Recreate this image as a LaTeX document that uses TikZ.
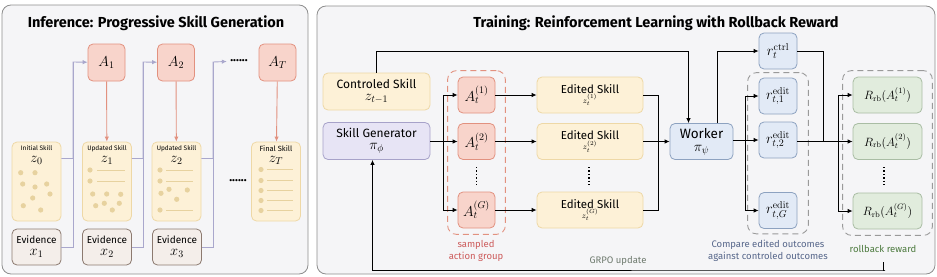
\documentclass[tikz,border=0pt]{standalone}
\usepackage[no-math]{fontspec}
\setmainfont{Fira Sans}
\usetikzlibrary{arrows.meta, positioning, fit, backgrounds, calc}
\definecolor{fillPanel}{HTML}{F5F5F7}
\definecolor{borderPanel}{HTML}{8E8E8E}
\definecolor{fillAct}{HTML}{F8D4CB}
\definecolor{borderAct}{HTML}{E2917F}
\definecolor{fillSkill}{HTML}{FDF1D7}
\definecolor{borderSkill}{HTML}{EED8A6}
\definecolor{dotSkill}{HTML}{E7D29F}
\definecolor{fillEvid}{HTML}{F4EEEA}
\definecolor{borderEvid}{HTML}{8C7A70}
\definecolor{lineInf}{HTML}{A9A7CC}
\definecolor{fillGen}{HTML}{E7E4F5}
\definecolor{borderGen}{HTML}{A7A2C9}
\definecolor{fillWork}{HTML}{E2EAF6}
\definecolor{borderWork}{HTML}{8DA2C0}
\definecolor{fillRb}{HTML}{E1ECDD}
\definecolor{borderRb}{HTML}{A9BDA4}
\definecolor{textRed}{HTML}{CC5A5A}
\definecolor{textBlue}{HTML}{56668A}
\definecolor{textGreen}{HTML}{4C7A3E}
\definecolor{textGray}{HTML}{6E7A6E}
\definecolor{dashGray}{HTML}{9A9A9A}

\begin{document}
\begin{tikzpicture}[x=1pt, y=-1pt, >=Latex,
        font=\fontsize{12}{13}\selectfont,
        panel/.style={draw=borderPanel, fill=fillPanel, rounded corners=9pt, line width=0.8pt},
        ttl/.style={font=\fontsize{14.5}{16}\selectfont\bfseries},
        box/.style={rounded corners=5pt, line width=0.8pt, inner sep=1pt, align=center},
        act/.style={box, draw=borderAct, fill=fillAct, minimum width=37pt, minimum height=37pt},
        skill/.style={box, draw=borderSkill, fill=fillSkill, minimum width=49pt, minimum height=79pt},
        evid/.style={box, draw=borderEvid, fill=fillEvid, minimum width=49pt, minimum height=36pt,
            font=\fontsize{10}{13}\selectfont},
        ctrlbox/.style={box, draw=borderSkill, fill=fillSkill, minimum width=107pt, minimum height=37pt},
        genbox/.style={box, draw=borderGen, fill=fillGen, minimum width=107pt, minimum height=37pt},
        editbox/.style={box, draw=borderSkill, fill=fillSkill, minimum width=106pt, minimum height=36pt,
            font=\fontsize{11.5}{12}\selectfont},
        workbox/.style={box, draw=borderWork, fill=fillWork, minimum width=63pt, minimum height=36pt},
        rbox/.style={box, draw=borderWork, fill=fillWork, minimum width=38pt, minimum height=36pt},
        rbbox/.style={box, draw=borderRb, fill=fillRb, minimum width=69pt, minimum height=36pt},
        grp/.style={draw=#1, dashed, dash pattern=on 6pt off 4pt, line width=0.9pt, rounded corners=9pt},
        tiny/.style={font=\fontsize{6.5}{7}\selectfont, inner sep=0pt},
        note/.style={font=\fontsize{9.5}{11.5}\selectfont, align=center},
        infl/.style={lineInf, line width=0.9pt},
        infarr/.style={infl, -{Latex[length=5pt, width=4.5pt]}},
        redarr/.style={borderAct, line width=0.9pt, -{Latex[length=5pt, width=4.5pt]}},
        ln/.style={line width=0.9pt},
        arr/.style={ln, -{Latex[length=5pt, width=4.5pt]}},
        vdots/.style={dotted, line width=1.4pt}]
    \useasboundingbox (0,0) rectangle (937,276);
    % two panels
    \draw[panel] (2,5) rectangle (308,274);
    \draw[panel] (317,6) rectangle (935,274);
    \node[ttl] (ttlInf) at (156,23) {Inference: Progressive Skill Generation};
    \node[ttl] (ttlTrain) at (656,23)
        {Training: Reinforcement Learning with Rollback Reward};

    % ---- inference ----
    \node[act] (a1) at (106.5,62.5) {\Large $A_1$};
    \node[act] (a2) at (176,62.5)   {\Large $A_2$};
    \node[act] (aT) at (277.5,62.5) {\Large $A_T$};
    \node (dotsTop) at (239,61) {\textbf{......}};

    \node[skill] (z0) at (36.5,181.5) {};
    \node[skill] (z1) at (107,181.5)  {};
    \node[skill] (z2) at (176.5,181.5) {};
    \node[skill] (zT) at (276,181.5)  {};
    \node (dotsMid) at (238,181) {\textbf{......}};
    \node[tiny] (z0t) at (36.5,148.5) {Initial Skill};
    \node[tiny] (z1t) at (107,148.5)  {Updated Skill};
    \node[tiny] (z2t) at (176.5,148.5) {Updated Skill};
    \node[tiny, font=\fontsize{7.5}{8}\selectfont] (zTt) at (276,148.5) {Final Skill};
    \node (z0m) at (36.5,160.5) {\Large $z_0$};
    \node (z1m) at (107,160.5)  {\Large $z_1$};
    \node (z2m) at (176.5,160.5) {\Large $z_2$};
    \node (zTm) at (276,160.5)  {\Large $z_T$};
    % skill contents
    \foreach \px/\py in {20.7/172.7, 35/172.7, 22.7/184, 35/187, 46.7/184, 50/194, 32.7/198, 23.3/205.7, 40.7/210}
        \fill[dotSkill] (\px,\py) circle (2.6pt);
    \foreach \px/\py in {92.7/194, 106.7/194, 120.7/194.3, 95.7/205.7, 104.3/203.3, 119.3/203.3, 112.3/210}
        \fill[dotSkill] (\px,\py) circle (2.6pt);
    \foreach \px/\py in {161/193.3, 169/189.3, 187.3/190, 176.7/199.3}
        \fill[dotSkill] (\px,\py) circle (2.6pt);
    \foreach \py in {170,181} {
        \fill[dotSkill] (90,\py) circle (2.6pt);
        \draw[dotSkill, line width=1pt] (97,\py) -- (125,\py);
    }
    \foreach \py in {170,181,210} {
        \fill[dotSkill] (160,\py) circle (2.6pt);
        \draw[dotSkill, line width=1pt] (166,\py) -- (193,\py);
    }
    \foreach \py in {169.5,180.5,190.5,200.5,210.5} {
        \fill[dotSkill] (261,\py) circle (2.6pt);
        \draw[dotSkill, line width=1pt] (267,\py) -- (293,\py);
    }

    \node[evid] (x1) at (36.5,247) {Evidence\\[-1pt] \Large $x_1$};
    \node[evid] (x2) at (107,247)  {Evidence\\[-1pt] \Large $x_2$};
    \node[evid] (x3) at (177,247)  {Evidence\\[-1pt] \Large $x_3$};

    \coordinate (j1) at (73,62);
    \coordinate (j2) at (143,62);
    \coordinate (j3) at (213,62);
    \draw[infarr] ([yshift=23pt]z0.east) -| (j1) -- (a1);
    \draw[infl] (x1.east) -| (j1);
    \draw[infarr] ([yshift=23pt]z1.east) -| (j2) -- (a2);
    \draw[infl] (x2.east) -| (j2);
    \draw[infarr] ([yshift=23pt]z2.east) -| (j3) -- (dotsTop);
    \draw[infl] (x3.east) -| (j3);
    \foreach \a/\z in {a1/z1, a2/z2, aT/zT}
        \draw[redarr] (\a) -- (\z);

    % ---- training ----
    \node[ctrlbox] (ctrl) at (376.5,91.5) {Controled Skill\\[-1pt] \Large $z_{t-1}$};
    \node[genbox]  (gen)  at (376.5,141)  {Skill Generator\\[-1pt] \Large $\pi_\phi$};

    \node[act, minimum height=36pt] (aa1) at (476.5,95)    {\Large $A_t^{(1)}$};
    \node[act, minimum height=36pt] (aa2) at (476.5,141.5) {\Large $A_t^{(2)}$};
    \node[act, minimum height=36pt] (aaG) at (476.5,210)   {\Large $A_t^{(G)}$};
    \node[grp=borderAct, fit=(aa1)(aaG), inner xsep=10pt, inner ysep=6pt] (grpA) {};

    \node[editbox] (ed1) at (590,95)    {Edited Skill\\[-2pt] {\footnotesize $z_t^{(1)}$}};
    \node[editbox] (ed2) at (590,141.5) {Edited Skill\\[-2pt] {\footnotesize $z_t^{(2)}$}};
    \node[editbox] (edG) at (590,210)   {Edited Skill\\[-2pt] {\footnotesize $z_t^{(G)}$}};

    \node[workbox, font=\fontsize{13.5}{14}\selectfont] (work) at (701.5,141.5) {Worker\\[-1pt] \Large $\pi_\psi$};

    \node[rbox] (rc) at (778,51)    {\Large $r_t^{\mathrm{ctrl}}$};
    \node[rbox] (r1) at (778,96)    {\Large $r_{t,1}^{\mathrm{edit}}$};
    \node[rbox] (r2) at (778,140)   {\Large $r_{t,2}^{\mathrm{edit}}$};
    \node[rbox] (rG) at (778,210.5) {\Large $r_{t,G}^{\mathrm{edit}}$};
    \node[grp=dashGray, fit=(r1)(rG), inner xsep=11pt, inner ysep=5pt] (grpR) {};

    \node[rbbox] (R1) at (887.5,95)    {\large $R_{\mathrm{rb}}(A_t^{(1)})$};
    \node[rbbox] (R2) at (887.5,141.5) {\large $R_{\mathrm{rb}}(A_t^{(2)})$};
    \node[rbbox] (RG) at (887.5,211)   {\large $R_{\mathrm{rb}}(A_t^{(G)})$};
    \node[grp=dashGray, fit=(R1)(RG), inner xsep=10pt, inner ysep=6pt] (grpRb) {};

    % vertical dots
    \draw[vdots] (476.5,167) -- (476.5,187);
    \draw[vdots] (589,167) -- (589,187);
    \draw[vdots] (884,167) -- (884,186);

    % labels under groups
    \node[note, text=textRed]   (lblA)  at (476,251) {sampled\\action group};
    \node[note, text=textGray]  (lblU)  at (618,261) {GRPO update};
    \node[note, text=textBlue]  (lblR)  at (768,251) {Compare edited outcomes\\against controled outcomes};
    \node[note, text=textGreen] (lblRb) at (883,249) {rollback reward};

    % connectors
    \coordinate (ja) at (443,141.5);
    \coordinate (jw) at (658,141.5);
    \coordinate (jr) at (745,141.5);
    \coordinate (jc) at (823,141.5);
    \coordinate (jR) at (838,141.5);
    \coordinate (fb) at (885,270);

    \draw[arr] (gen.east |- aa2) -- (aa2);
    \draw[arr] (ja) |- (aa1);
    \draw[arr] (ja) |- (aaG);
    \foreach \i in {1,2,G}
        \draw[arr] (aa\i) -- (ed\i);
    \draw[ln] (ed1) -| (jw);
    \draw[ln] (edG) -| (jw);
    \draw[arr] (ed2) -- (work);
    \draw[arr] (ctrl.north) |- ([xshift=-13pt]work.north |- rc.west) -- ([xshift=-13pt]work.north);
    \draw[arr] ([xshift=16pt]work.north) |- (rc);
    \draw[arr] (work.east |- r2) -- (r2);
    \draw[arr] (jr) |- (r1);
    \draw[arr] (jr) |- (rG);
    \draw[ln] (rc) -| (jc);
    \draw[arr] (r2.east |- R2) -- (R2);
    \draw[arr] (jR) |- (R1);
    \draw[arr] (jR) |- (RG);
    \draw[arr] ([yshift=-6pt]lblRb.south) |- (fb) -| ([xshift=-4pt]gen.south);
\end{tikzpicture}
\end{document}
